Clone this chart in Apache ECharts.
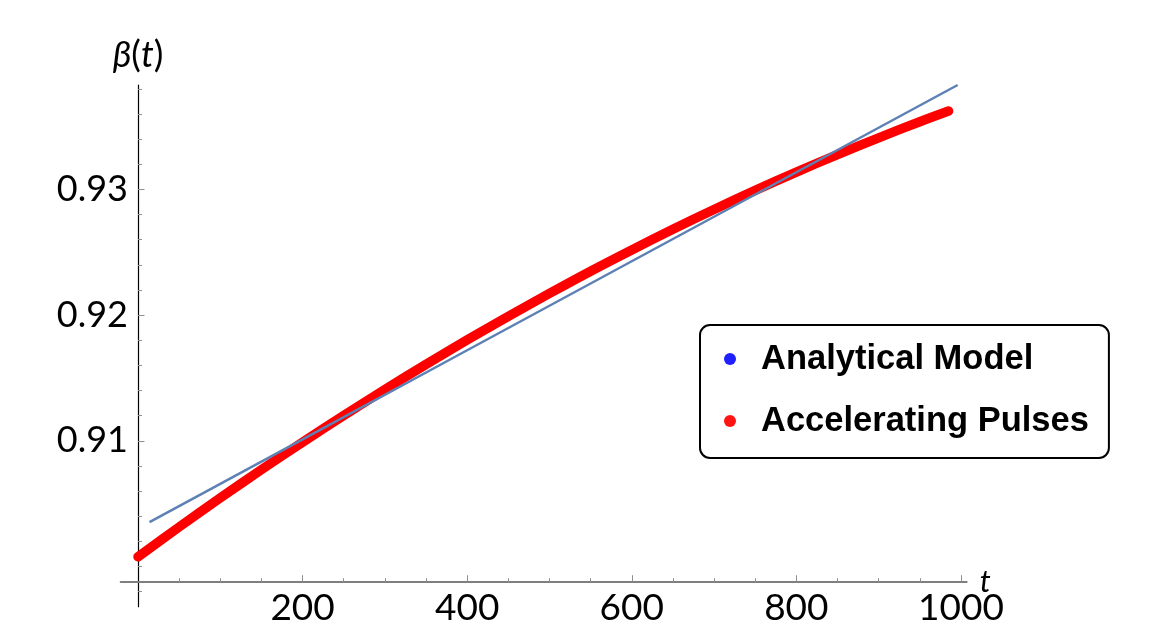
<!DOCTYPE html>
<html><head><meta charset="utf-8">
<script src="https://cdn.jsdelivr.net/npm/echarts@6/dist/echarts.min.js"></script>
<style>html,body{margin:0;padding:0;background:#fff}#c{width:1150px;height:636px}</style>
</head><body><div id="c"></div>
<script>
// Accelerating Pulses (red, thick)
const tPulse = [0, 50, 100, 150, 200, 250, 300, 350, 400, 450, 500, 550, 600, 650, 700, 750, 800, 850, 900, 950, 985];
const betaPulse = [0.90077, 0.90314, 0.90545, 0.90770, 0.90988, 0.91201, 0.91407, 0.91608, 0.91802, 0.91990, 0.92172,
                   0.92349, 0.92518, 0.92682, 0.92840, 0.92992, 0.93137, 0.93277, 0.93410, 0.93538, 0.93623];
// Analytical Model (thin steel-blue line)
const tModel = [14, 200, 400, 600, 800, 996];
const betaModel = [0.90352, 0.91011, 0.91720, 0.92428, 0.93136, 0.93830];
// Ticks
const xTickLabels = [200, 400, 600, 800, 1000];
const xMinorTicks = [50, 100, 150, 250, 300, 350, 450, 500, 550, 650, 700, 750, 850, 900, 950];
const yTickLabels = [0.91, 0.92, 0.93];
const yMinorTicks = [0.898, 0.900, 0.902, 0.904, 0.906, 0.908, 0.912, 0.914, 0.916, 0.918,
                     0.922, 0.924, 0.926, 0.928, 0.932, 0.934, 0.936, 0.938];

const zip = (a, b) => a.map((v, i) => [v, b[i]]);
const chart = echarts.init(document.getElementById('c'), null, {renderer: 'canvas'});
const tickColor = '#8f8f8f';
const xCommon = {type: 'value', gridIndex: 0, min: -21, max: 1007, position: 'bottom', offset: -25, splitLine: {show: false}};
const yCommon = {type: 'value', gridIndex: 0, min: 0.8968, max: 0.9383, position: 'left', offset: -17.3, splitLine: {show: false}};

chart.setOption({
  animation: false,
  backgroundColor: '#fff',
  grid: {left: 120.7, right: 183.3, top: 85, bottom: 29.3, containLabel: false},
  xAxis: [
    Object.assign({}, xCommon, {
      axisLine: {show: true, onZero: false, lineStyle: {color: '#7f7f7f', width: 2}},
      axisTick: {show: true, inside: true, length: 6.5, customValues: xTickLabels, lineStyle: {color: tickColor, width: 1}},
      axisLabel: {show: true, customValues: xTickLabels, formatter: v => String(Math.round(v)),
                  fontFamily: 'Lato', fontSize: 37, color: '#000', margin: 8},
      name: 't', nameLocation: 'end', nameGap: 13, nameMoveOverlap: false,
      nameTextStyle: {fontFamily: 'Lato', fontStyle: 'italic', fontSize: 31, color: '#000', verticalAlign: 'middle', padding: [4, 0, 0, 0]}
    }),
    Object.assign({}, xCommon, {
      axisLine: {show: false, onZero: false},
      axisTick: {show: true, inside: true, length: 3.5, customValues: xMinorTicks, lineStyle: {color: tickColor, width: 1}},
      axisLabel: {show: false}
    })
  ],
  yAxis: [
    Object.assign({}, yCommon, {
      axisLine: {show: true, onZero: false, lineStyle: {color: '#000', width: 1.2}},
      axisTick: {show: true, inside: true, length: 6.5, customValues: yTickLabels, lineStyle: {color: tickColor, width: 1}},
      axisLabel: {show: true, customValues: yTickLabels, formatter: v => Number(v).toFixed(2),
                  fontFamily: 'Lato', fontSize: 36, color: '#000', margin: 10},
      name: '{i|β}{n|(}{i|t}{n|)}', nameLocation: 'end', nameGap: 12, nameMoveOverlap: false,
      nameTextStyle: {
        align: 'center',
        rich: {
          i: {fontFamily: 'Lato', fontStyle: 'italic', fontSize: 36, color: '#000'},
          n: {fontFamily: 'Lato', fontSize: 36, color: '#000'}
        }
      }
    }),
    Object.assign({}, yCommon, {
      axisLine: {show: false, onZero: false},
      axisTick: {show: true, inside: true, length: 4, customValues: yMinorTicks, lineStyle: {color: tickColor, width: 1}},
      axisLabel: {show: false}
    })
  ],
  legend: {
    orient: 'vertical', left: 700, top: 325,
    data: [
      {name: 'Analytical Model', itemStyle: {color: '#1f1fff'}},
      {name: 'Accelerating Pulses', itemStyle: {color: '#ff1414'}}
    ],
    icon: 'circle', itemWidth: 12, itemHeight: 12, itemGap: 22,
    padding: [14, 20, 17, 24],
    borderColor: '#000', borderWidth: 2, borderRadius: 10, backgroundColor: '#fff',
    selectedMode: false,
    textStyle: {fontFamily: 'Liberation Sans', fontWeight: 'bold', fontSize: 34.5, color: '#000', lineHeight: 40, padding: [0, 0, 0, 20]}
  },
  series: [
    {
      name: 'Accelerating Pulses', type: 'line', xAxisIndex: 0, yAxisIndex: 0,
      data: zip(tPulse, betaPulse), showSymbol: false, smooth: 0.3, z: 2,
      lineStyle: {color: '#ff0000', width: 9.5, cap: 'round', join: 'round'},
      itemStyle: {color: '#ff0000'}
    },
    {
      name: 'Analytical Model', type: 'line', xAxisIndex: 0, yAxisIndex: 0,
      data: zip(tModel, betaModel), showSymbol: false, z: 3,
      lineStyle: {color: '#5e81b5', width: 2.5},
      itemStyle: {color: '#5e81b5'}
    }
  ]
});
</script></body></html>
